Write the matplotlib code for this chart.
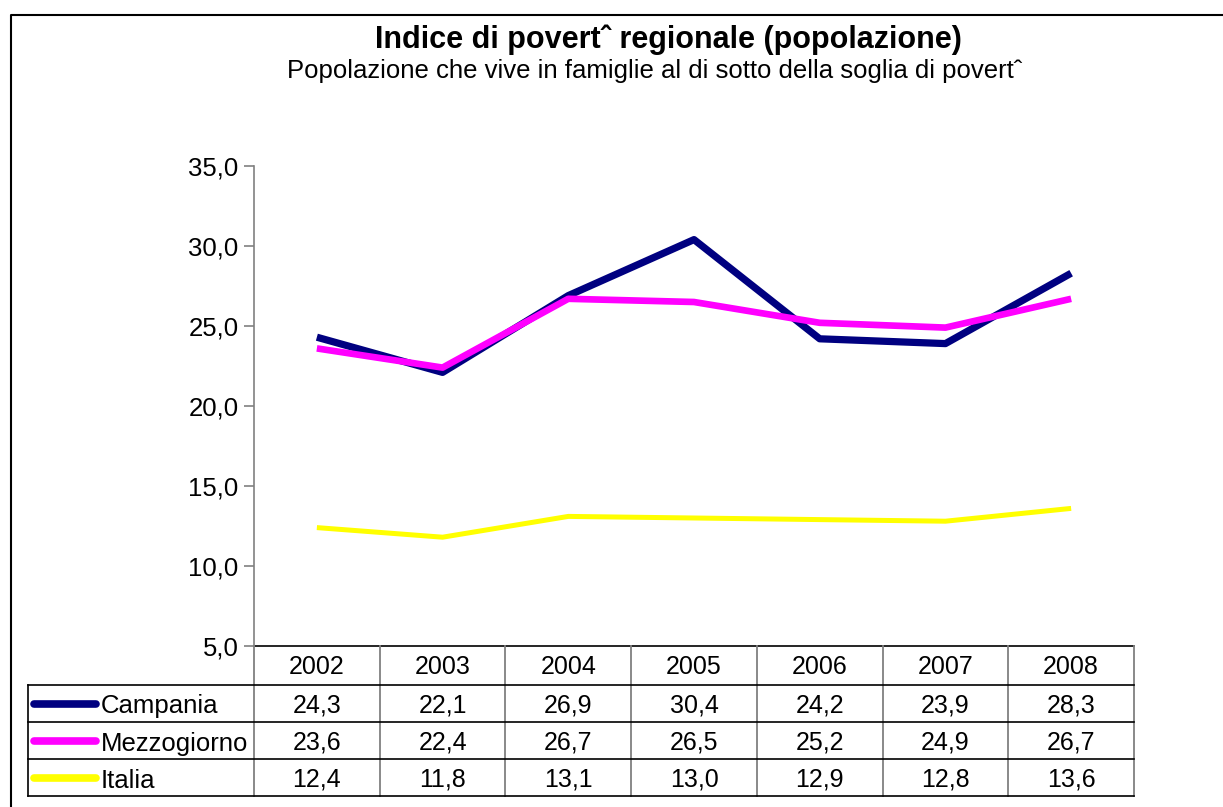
import matplotlib
matplotlib.use("Agg")
import matplotlib.pyplot as plt
from matplotlib.lines import Line2D

plt.rcParams['font.family'] = ['Liberation Sans', 'DejaVu Sans']

# --- data ---
years = ['2002', '2003', '2004', '2005', '2006', '2007', '2008']
campania = [24.3, 22.1, 26.9, 30.4, 24.2, 23.9, 28.3]
mezzogiorno = [23.6, 22.4, 26.7, 26.5, 25.2, 24.9, 26.7]
italia = [12.4, 11.8, 13.1, 13.0, 12.9, 12.8, 13.6]
series_names = ['Campania', 'Mezzogiorno', 'Italia']
series_values = [campania, mezzogiorno, italia]
series_colors = ['#000080', '#FF00FF', '#FFFF00']
series_widths = [5.2, 4.8, 3.6]
y_ticks = [5, 10, 15, 20, 25, 30, 35]

W, H = 1223, 807


def fmt(v):
    return f"{v:.1f}".replace('.', ',')


fig = plt.figure(figsize=(W / 100, H / 100), dpi=100)
fig.patch.set_facecolor('white')

# pixel layout of the plot area
px_left, px_right = 254, 1134
px_top, px_bottom = 166, 646
ax = fig.add_axes([px_left / W, 1 - px_bottom / H,
                   (px_right - px_left) / W, (px_bottom - px_top) / H])
ax.set_facecolor('none')

xs = list(range(len(years)))
for vals, col, lw in zip(series_values, series_colors, series_widths):
    ax.plot(xs, vals, color=col, lw=lw, solid_capstyle='butt', zorder=3)

ax.set_xlim(-0.5, len(years) - 0.5)
ax.set_ylim(5, 35)
ax.set_yticks(y_ticks)
ax.set_yticklabels([fmt(t) for t in y_ticks], fontsize=18.5)
ax.set_xticks([])
for s in ['top', 'right', 'bottom']:
    ax.spines[s].set_visible(False)
ax.spines['left'].set_color('#808080')
ax.spines['left'].set_linewidth(1.2)
ax.tick_params(axis='y', direction='out', length=7, width=1.2, color='#808080', pad=4)

# overlay in pixel coordinates for frame, titles and data table
ov = fig.add_axes([0, 0, 1, 1])
ov.set_xlim(0, W)
ov.set_ylim(H, 0)
ov.axis('off')
ov.set_zorder(-1)

# outer chart frame (cut at right/bottom of the picture)
ov.plot([10.5, 10.5, W + 5], [H + 5, 14.5, 14.5], color='black', lw=1.5)

ov.text(668, 40, 'Indice di povertˆ regionale (popolazione)', ha='center', va='center',
        fontsize=22, fontweight='bold')
ov.text(655, 71, 'Popolazione che vive in famiglie al di sotto della soglia di povertˆ',
        ha='center', va='center', fontsize=18.5)

# data table
col_w = (px_right - px_left) / len(years)
row_h = [646, 685, 722, 759, 796]
grid = '#808080'
ov.plot([px_left, px_right], [row_h[0], row_h[0]], color='black', lw=1.2)
for i in range(len(years) + 1):
    x = px_left + i * col_w
    ov.plot([x, x], [row_h[0], row_h[-1]], color=grid, lw=1.3)
for y in row_h[1:]:
    ov.plot([28, px_right], [y, y], color='black', lw=1.2)
ov.plot([28, 28], [row_h[1], row_h[-1]], color='black', lw=1.2)

for i, yr in enumerate(years):
    ov.text(px_left + (i + 0.5) * col_w, (row_h[0] + row_h[1]) / 2 + 2, yr,
            ha='center', va='center', fontsize=18)

for r, (name, vals, col, lw) in enumerate(zip(series_names, series_values,
                                               series_colors, series_widths)):
    yc = (row_h[r + 1] + row_h[r + 2]) / 2
    ov.add_line(Line2D([34, 96], [yc, yc], color=col, lw=5.5, solid_capstyle='round'))
    ov.text(101, yc + 3, name, ha='left', va='center', fontsize=18.5)
    for i, v in enumerate(vals):
        ov.text(px_left + (i + 0.5) * col_w, yc + 2, fmt(v), ha='center', va='center',
                fontsize=18)

fig.savefig('out.png', dpi=100)
